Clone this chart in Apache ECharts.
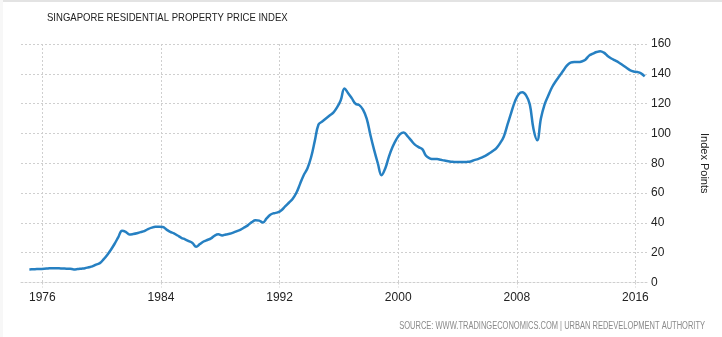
<!DOCTYPE html>
<html>
<head>
<meta charset="utf-8">
<style>
  html, body { margin: 0; padding: 0; background: #fff; }
  #chart { width: 722px; height: 337px; }
</style>
<script src="https://cdn.jsdelivr.net/npm/echarts@6/dist/echarts.min.js"></script>
</head>
<body>
<div id="chart"></div>
<script>
// Singapore residential property price index, quarterly, 1975 Q1 – 2016 Q3
const firstYear = 1975;
const indexValues = [
  8.8, 8.9, 9.0, 9.1,        // 1975
  9.2, 9.4, 9.6, 9.6,        // 1976
  9.5, 9.4, 9.3, 9.2,        // 1977
  8.8, 9.0, 9.3, 9.6,        // 1978
  10.2, 10.8, 12.0, 13.0,    // 1979
  15.5, 18.5, 22.0, 26.0,    // 1980
  30.5, 34.8, 34.0, 32.2,    // 1981
  32.5, 33.0, 33.8, 34.5,    // 1982
  35.8, 36.8, 37.4, 37.4,    // 1983
  37.2, 35.5, 34.0, 33.0,    // 1984
  31.5, 30.0, 29.0, 27.8,    // 1985
  26.5, 24.0, 25.8, 27.5,    // 1986
  28.5, 29.6, 31.5, 32.3,    // 1987
  31.6, 32.2, 32.7, 33.5,    // 1988
  34.5, 35.5, 37.0, 38.5,    // 1989
  40.5, 41.8, 41.5, 40.3,    // 1990
  43.0, 45.5, 46.5, 47.0,    // 1991
  48.5, 51.0, 53.5, 56.0,    // 1992
  60.0, 66.0, 72.0, 76.5,    // 1993
  84.0, 95.0, 106.0, 108.0,  // 1994
  110.0, 112.0, 114.0, 117.5,// 1995
  122.3, 130.2, 127.0, 123.5,// 1996
  119.9, 119.0, 116.0, 110.0,// 1997
  99.0, 89.0, 80.0, 72.0,    // 1998
  76.5, 84.5, 91.0, 96.0,    // 1999
  99.5, 100.7, 98.2, 95.3,   // 2000
  92.5, 90.8, 89.5, 85.0,    // 2001
  83.3, 82.8, 82.8, 82.3,    // 2002
  81.8, 81.4, 81.0, 80.8,    // 2003
  80.8, 80.8, 80.9, 81.2,    // 2004
  82.1, 82.8, 83.8, 85.0,    // 2005
  86.5, 88.2, 90.2, 93.5,    // 2006
  98.0, 106.0, 114.0, 121.5, // 2007
  126.3, 127.6, 125.5, 119.5,// 2008
  103.0, 95.5, 110.0, 119.5, // 2009
  125.5, 131.0, 135.0, 138.5,// 2010
  142.0, 145.5, 147.5, 147.9,// 2011
  147.9, 148.3, 149.5, 152.2,// 2012
  153.5, 154.6, 155.2, 154.2,// 2013
  152.0, 150.3, 149.0, 147.6,// 2014
  145.9, 144.2, 142.5, 141.6,// 2015
  141.2, 140.3, 138.3        // 2016
];
const tickYears = [1976, 1984, 1992, 2000, 2008, 2016];
const valueTicks = [0, 20, 40, 60, 80, 100, 120, 140, 160];

const titleText = 'SINGAPORE RESIDENTIAL PROPERTY PRICE INDEX';
const sourceText = 'SOURCE: WWW.TRADINGECONOMICS.COM | URBAN REDEVELOPMENT AUTHORITY';
const unitName = 'Index Points';

// each quarter is placed at its middle (decimal year)
const seriesData = indexValues.map((v, i) => [firstYear + i * 0.25 + 0.125, v]);

const chart = echarts.init(document.getElementById('chart'), null, { renderer: 'canvas' });

const dotted = { color: '#cfcfcf', width: 1, type: [2, 2] };

chart.setOption({
  animation: false,
  backgroundColor: '#fff',
  textStyle: { fontFamily: 'Liberation Sans, Arial, sans-serif' },
  graphic: [
    { type: 'rect', shape: { x: 0, y: 0, width: 722, height: 2 }, style: { fill: '#e3e3e3' }, silent: true },
    { type: 'rect', shape: { x: 0, y: 0, width: 3, height: 337 }, style: { fill: '#f7f7f7' }, silent: true },
    {
      // chart title, condensed
      type: 'text', x: 47, y: 12, scaleX: 0.83, silent: true,
      style: { text: titleText, fill: '#222', fontSize: 11.5, fontFamily: 'Liberation Sans, Arial', align: 'left', verticalAlign: 'top' }
    },
    {
      // source line, right aligned and condensed
      type: 'text', x: 705, y: 321, scaleX: 0.75, silent: true,
      style: { text: sourceText, fill: '#8a8a8a', fontSize: 10, fontFamily: 'Liberation Sans, Arial', align: 'right', verticalAlign: 'top' }
    }
  ],
  grid: { left: 21, right: 75, top: 44, bottom: 54.5, containLabel: false },
  xAxis: {
    type: 'value',
    min: 1974.56,
    max: 2016.78,
    axisLine: { show: true, lineStyle: dotted },
    axisTick: { show: true, length: 5, lineStyle: dotted, customValues: tickYears },
    axisLabel: {
      customValues: tickYears,
      margin: 9, fontSize: 12, color: '#222',
      formatter: v => String(v)
    },
    splitLine: { show: true, lineStyle: dotted }
  },
  yAxis: {
    type: 'value',
    position: 'right',
    min: valueTicks[0],
    max: valueTicks[valueTicks.length - 1],
    interval: 20,
    name: unitName,
    nameLocation: 'middle',
    nameRotate: -90,
    nameGap: 52,
    nameTextStyle: { fontSize: 11, color: '#222' },
    axisLine: { show: false },
    axisTick: { show: false },
    axisLabel: { margin: 4, fontSize: 12, color: '#222' },
    splitLine: { show: true, lineStyle: dotted }
  },
  series: [{
    type: 'line',
    data: seriesData,
    smooth: 0.4,
    showSymbol: false,
    lineStyle: { color: '#2680c2', width: 2.5 },
    itemStyle: { color: '#2680c2' }
  }]
});
</script>
</body>
</html>
